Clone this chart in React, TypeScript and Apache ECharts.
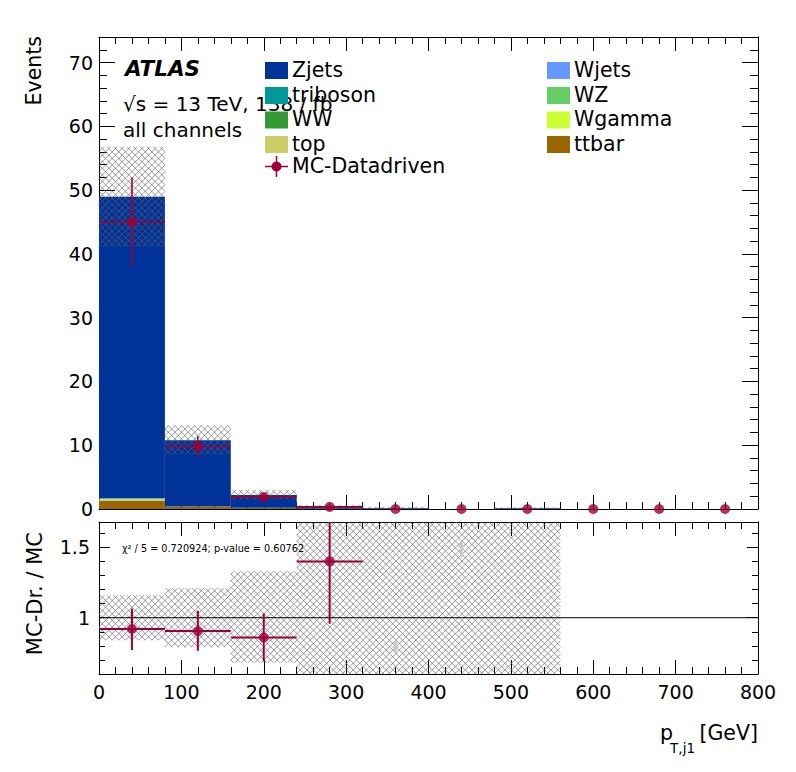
import React, { useEffect, useRef } from "react";
import * as echarts from "echarts";

// ---------- data ----------
const binLabels = ["0-80", "80-160", "160-240", "240-320", "320-400", "400-480", "480-560", "560-640", "640-720", "720-800"];
const binLow = [0, 80, 160, 240, 320, 400, 480, 560, 640, 720];
const binHigh = [80, 160, 240, 320, 400, 480, 560, 640, 720, 800];
const binCenter = [40, 120, 200, 280, 360, 440, 520, 600, 680, 760];

// stacked MC, bottom -> top
const ttbar = [1.3, 0.3, 0.18, 0.04, 0.02, 0, 0.01, 0, 0, 0];
const topQ = [0.15, 0.02, 0.01, 0, 0, 0, 0, 0, 0, 0];
const wgamma = [0.02, 0.01, 0, 0, 0, 0, 0, 0, 0, 0];
const ww = [0.02, 0.01, 0, 0, 0, 0, 0, 0, 0, 0];
const wz = [0.15, 0.04, 0.02, 0.01, 0, 0, 0, 0, 0, 0];
const triboson = [0.01, 0, 0, 0, 0, 0, 0, 0, 0, 0];
const wjets = [0.02, 0.01, 0, 0, 0, 0, 0, 0, 0, 0];
const zjets = [47.3, 10.4, 1.98, 0.3, 0.14, 0, 0.09, 0, 0, 0];

// MC uncertainty band (main panel)
const mcBandLo = [41.1, 8.5, 1.5, 0.1, 0, 0, 0];
const mcBandHi = [56.8, 13.1, 3.0, 0.6, 0.35, 0, 0.25];

// MC-Datadriven points (main panel)
const dataY = [45, 9.8, 1.9, 0.33, 0, 0, 0, 0, 0, 0];
const dataErrLo = [38.1, 8.2, 1.35, 0.0];
const dataErrHi = [52.0, 11.4, 2.5, 0.66];

// ratio panel
const ratioBandLo = [0.84, 0.79, 0.68, 0, 0, 0, 0];
const ratioBandHi = [1.16, 1.21, 1.33, 3, 3, 3, 3];
const ratioY = [0.92, 0.905, 0.86, 1.4];
const ratioErrLo = [0.77, 0.765, 0.69, 0.957];
const ratioErrHi = [1.065, 1.05, 1.03, 1.9];
// out-of-range arrows: [x, tail, head]
const arrowX = [360, 440];
const arrowTail = [0.83, 1.43];
const arrowHead = [0.76, 1.535];

// ticks
const yMainMajor = [0, 10, 20, 30, 40, 50, 60, 70];
const yMainMinor = [0, 2, 4, 6, 8, 10, 12, 14, 16, 18, 20, 22, 24, 26, 28, 30, 32, 34, 36, 38, 40, 42, 44, 46, 48, 50, 52, 54, 56, 58, 60, 62, 64, 66, 68, 70, 72];
const yRatioMajor = [1, 1.5];
const yRatioMinor = [0.6, 0.7, 0.8, 0.9, 1.0, 1.1, 1.2, 1.3, 1.4, 1.5, 1.6];

const legendLeft = [
  { name: "Zjets", color: "#003399" },
  { name: "triboson", color: "#009999" },
  { name: "WW", color: "#339933" },
  { name: "top", color: "#cccc66" },
];
const legendRight = [
  { name: "Wjets", color: "#6699ff" },
  { name: "WZ", color: "#66cc66" },
  { name: "Wgamma", color: "#ccff33" },
  { name: "ttbar", color: "#996600" },
];
const chi2Text = "χ² / 5 = 0.720924; p-value = 0.60762";

// ---------- style ----------
const FONT = "DejaVu Sans";
const RED = "#9e0035";
const HATCH = "rgba(95,95,95,0.75)";

function hatchItem(params: any, api: any) {
  const x0 = api.value(0), x1 = api.value(1), lo = api.value(2), hi = api.value(3);
  const p0 = api.coord([x0, hi]);
  const p1 = api.coord([x1, lo]);
  const cs = params.coordSys;
  const L = Math.max(Math.min(p0[0], p1[0]), cs.x);
  const R = Math.min(Math.max(p0[0], p1[0]), cs.x + cs.width);
  const T = Math.max(Math.min(p0[1], p1[1]), cs.y);
  const B = Math.min(Math.max(p0[1], p1[1]), cs.y + cs.height);
  const children: any[] = [];
  if (R - L < 0.5 || B - T < 0.5) return { type: "group", children };
  const s = 6.6;
  const st = { stroke: HATCH, lineWidth: 0.85 };
  for (let k = Math.ceil((L + T) / s); k * s <= R + B; k++) {
    const c = k * s;
    const xa = Math.max(L, c - B), xb = Math.min(R, c - T);
    if (xb - xa > 0.2) children.push({ type: "line", shape: { x1: xa, y1: c - xa, x2: xb, y2: c - xb }, style: st });
  }
  for (let k = Math.ceil((L - B) / s); k * s <= R - T; k++) {
    const c = k * s;
    const xa = Math.max(L, T + c), xb = Math.min(R, B + c);
    if (xb - xa > 0.2) children.push({ type: "line", shape: { x1: xa, y1: xa - c, x2: xb, y2: xb - c }, style: st });
  }
  return { type: "group", children, silent: true };
}

function errItem(width: number) {
  return (params: any, api: any) => {
    const x = api.value(0), y = api.value(1), xe = api.value(2), lo = api.value(3), hi = api.value(4);
    const cs = params.coordSys;
    const clipY = (v: number) => Math.max(cs.y, Math.min(cs.y + cs.height, v));
    const a = api.coord([x - xe, y]);
    const b = api.coord([x + xe, y]);
    const c = api.coord([x, hi]);
    const d = api.coord([x, lo]);
    const st = { stroke: RED, lineWidth: width };
    return {
      type: "group",
      children: [
        { type: "line", shape: { x1: a[0], y1: a[1], x2: b[0], y2: b[1] }, style: st },
        { type: "line", shape: { x1: c[0], y1: clipY(c[1]), x2: d[0], y2: clipY(d[1]) }, style: st },
      ],
    };
  };
}

function arrowItem(params: any, api: any) {
  const x = api.value(0), t = api.value(1), h = api.value(2);
  const pt = api.coord([x, t]);
  const ph = api.coord([x, h]);
  const dir = ph[1] > pt[1] ? 1 : -1;
  const st = { stroke: "#c8c8c8", lineWidth: 3 };
  return {
    type: "group",
    children: [
      { type: "line", shape: { x1: pt[0], y1: pt[1], x2: ph[0], y2: ph[1] - dir * 3 }, style: st },
      {
        type: "polygon",
        shape: { points: [[ph[0] - 3.5, ph[1] - dir * 5], [ph[0] + 3.5, ph[1] - dir * 5], [ph[0], ph[1] + dir * 1]] },
        style: { fill: "#c8c8c8" },
      },
    ],
  };
}

function xValueAxis(grid: number, position: string, labels: boolean) {
  return {
    type: "value",
    gridIndex: grid,
    position,
    min: 0,
    max: 800,
    interval: 100,
    axisLine: { show: true, onZero: false, lineStyle: { color: "#000", width: 1 } },
    axisTick: { show: true, inside: true, length: 14, lineStyle: { color: "#000", width: 1 } },
    minorTick: { show: true, splitNumber: 5, length: 7, lineStyle: { color: "#000", width: 1 } },
    axisLabel: { show: labels, color: "#000", fontFamily: FONT, fontSize: 19, margin: 8 },
    splitLine: { show: false },
    minorSplitLine: { show: false },
  };
}

function yAxisDef(grid: number, position: string, min: number, max: number, ticks: number[], len: number, labels: boolean, line: boolean, margin: number) {
  return {
    type: "value",
    gridIndex: grid,
    position,
    min,
    max,
    axisLine: { show: line, onZero: false, lineStyle: { color: "#000", width: 1 } },
    axisTick: { show: true, inside: true, length: len, customValues: ticks, lineStyle: { color: "#000", width: 1 } },
    axisLabel: labels
      ? { show: true, customValues: ticks, color: "#000", fontFamily: FONT, fontSize: 19, margin }
      : { show: false },
    splitLine: { show: false },
  };
}

function buildOption() {
  const stackDefs = [
    { name: "ttbar", data: ttbar, color: "#996600" },
    { name: "top", data: topQ, color: "#cccc66" },
    { name: "Wgamma", data: wgamma, color: "#ccff33" },
    { name: "WW", data: ww, color: "#339933" },
    { name: "WZ", data: wz, color: "#66cc66" },
    { name: "triboson", data: triboson, color: "#009999" },
    { name: "Wjets", data: wjets, color: "#6699ff" },
    { name: "Zjets", data: zjets, color: "#003399" },
  ];
  const bars = stackDefs.map((d) => ({
    type: "bar",
    name: d.name,
    xAxisIndex: 0,
    yAxisIndex: 0,
    stack: "mc",
    barCategoryGap: "0%",
    barWidth: "100%",
    data: d.data,
    itemStyle: { color: d.color, borderWidth: 0 },
    z: 2,
  }));

  const mcBand = mcBandLo.map((lo, i) => [binLow[i], binHigh[i], lo, mcBandHi[i]]);
  const ratioBand = ratioBandLo.map((lo, i) => [binLow[i], binHigh[i], lo, ratioBandHi[i]]);
  const dataPts = dataY.map((y, i) => [binCenter[i], y]);
  const dataErr = dataErrLo.map((lo, i) => [binCenter[i], dataY[i], 40, lo, dataErrHi[i]]);
  const ratioPts = ratioY.map((y, i) => [binCenter[i], y]);
  const ratioErr = ratioErrLo.map((lo, i) => [binCenter[i], ratioY[i], 40, lo, ratioErrHi[i]]);
  const arrows = arrowX.map((x, i) => [x, arrowTail[i], arrowHead[i]]);

  const graphics: any[] = [];
  const txt = (text: string, x: number, y: number, extra: any = {}) => ({
    type: "text",
    x,
    y,
    z: 100,
    ...(extra.rotation !== undefined ? { rotation: extra.rotation } : {}),
    style: {
      text,
      fill: "#000",
      fontFamily: FONT,
      fontSize: extra.fontSize ?? 20,
      fontWeight: extra.fontWeight ?? "normal",
      fontStyle: extra.fontStyle ?? "normal",
      align: extra.align ?? "left",
      verticalAlign: "middle",
    },
  });
  graphics.push(txt("ATLAS", 125, 68.7, { fontSize: 21.5, fontWeight: "bold", fontStyle: "italic" }));
  graphics.push(txt("√s = 13 TeV, 138 / fb", 123, 103.5, { fontSize: 20 }));
  graphics.push(txt("all channels", 123, 130, { fontSize: 20 }));
  const rowBox = [62, 87, 111.5, 136];
  legendLeft.forEach((e, i) => {
    graphics.push({ type: "rect", z: 101, shape: { x: 265, y: rowBox[i], width: 23, height: 17 }, style: { fill: e.color } });
    graphics.push({ ...txt(e.name, 292, rowBox[i] + 7.5, { fontSize: 20.5 }), z: 102 });
  });
  legendRight.forEach((e, i) => {
    graphics.push({ type: "rect", z: 101, shape: { x: 547, y: rowBox[i], width: 23, height: 17 }, style: { fill: e.color } });
    graphics.push({ ...txt(e.name, 574, rowBox[i] + 7.5, { fontSize: 20.5 }), z: 102 });
  });
  graphics.push({ type: "line", z: 101, shape: { x1: 265, y1: 166.5, x2: 288, y2: 166.5 }, style: { stroke: RED, lineWidth: 1.5 } });
  graphics.push({ type: "line", z: 101, shape: { x1: 276.5, y1: 156, x2: 276.5, y2: 177 }, style: { stroke: RED, lineWidth: 1.5 } });
  graphics.push({ type: "circle", z: 101, shape: { cx: 276.5, cy: 166.5, r: 5 }, style: { fill: RED } });
  graphics.push({ ...txt("MC-Datadriven", 292, 165.7, { fontSize: 20.5 }), z: 102 });

  graphics.push(txt("Events", 34, 36, { rotation: Math.PI / 2, align: "right", fontSize: 20.5 }));
  graphics.push(txt("MC-Dr. / MC", 35, 532, { rotation: Math.PI / 2, align: "right", fontSize: 21 }));
  graphics.push(txt(chi2Text, 122, 548.3, { fontSize: 9.7 }));
  graphics.push(txt("[GeV]", 758, 733, { align: "right", fontSize: 20.5 }));
  graphics.push(txt("T,j1", 695, 748, { align: "right", fontSize: 13.5 }));
  graphics.push(txt("p", 673, 733, { align: "right", fontSize: 20.5 }));

  return {
    animation: false,
    backgroundColor: "#fff",
    grid: [
      { left: 99, top: 37, width: 659, height: 472 },
      { left: 99, top: 522, width: 659, height: 152 },
    ],
    xAxis: [
      { type: "category", gridIndex: 0, data: binLabels, show: false, boundaryGap: true },
      xValueAxis(0, "bottom", false),
      xValueAxis(0, "top", false),
      { type: "category", gridIndex: 1, data: binLabels, show: false, boundaryGap: true },
      xValueAxis(1, "bottom", true),
      xValueAxis(1, "top", false),
    ],
    yAxis: [
      yAxisDef(0, "left", 0, 74, yMainMajor, 16, true, true, 6),
      yAxisDef(0, "left", 0, 74, yMainMinor, 8, false, false, 6),
      yAxisDef(0, "right", 0, 74, yMainMajor, 16, false, true, 6),
      yAxisDef(0, "right", 0, 74, yMainMinor, 8, false, false, 6),
      yAxisDef(1, "left", 0.6, 1.68, yRatioMajor, 11, true, true, 9),
      yAxisDef(1, "left", 0.6, 1.68, yRatioMinor, 6, false, false, 9),
      yAxisDef(1, "right", 0.6, 1.68, yRatioMajor, 11, false, true, 9),
      yAxisDef(1, "right", 0.6, 1.68, yRatioMinor, 6, false, false, 9),
    ],
    series: [
      ...bars,
      { type: "custom", name: "mcband", xAxisIndex: 1, yAxisIndex: 0, data: mcBand, renderItem: hatchItem, z: 3, silent: true },
      { type: "custom", name: "dataerr", xAxisIndex: 1, yAxisIndex: 0, data: dataErr, renderItem: errItem(1.6), z: 5 },
      {
        type: "scatter", name: "MC-Datadriven", xAxisIndex: 1, yAxisIndex: 0, data: dataPts,
        symbol: "circle", symbolSize: 10, itemStyle: { color: RED }, clip: false, z: 6,
      },
      { type: "custom", name: "ratioband", xAxisIndex: 4, yAxisIndex: 4, data: ratioBand, renderItem: hatchItem, z: 3, silent: true },
      {
        type: "line", name: "unity", xAxisIndex: 4, yAxisIndex: 4, data: [[0, 1], [800, 1]],
        symbol: "none", lineStyle: { color: "#000", width: 1 }, z: 4,
      },
      { type: "custom", name: "arrows", xAxisIndex: 4, yAxisIndex: 4, data: arrows, renderItem: arrowItem, z: 4 },
      { type: "custom", name: "ratioerr", xAxisIndex: 4, yAxisIndex: 4, data: ratioErr, renderItem: errItem(2), z: 5 },
      {
        type: "scatter", name: "ratio", xAxisIndex: 4, yAxisIndex: 4, data: ratioPts,
        symbol: "circle", symbolSize: 10, itemStyle: { color: RED }, clip: false, z: 6,
      },
    ],
    graphic: { elements: graphics },
  };
}

export default function App() {
  const ref = useRef<HTMLDivElement>(null);
  useEffect(() => {
    if (!ref.current) return;
    const chart = echarts.init(ref.current, null, { renderer: "svg" });
    chart.setOption(buildOption() as any);
    return () => chart.dispose();
  }, []);
  return (
    <div
      ref={ref}
      style={{ position: "absolute", left: 0, top: 0, width: 796, height: 772, background: "#fff" }}
    />
  );
}
